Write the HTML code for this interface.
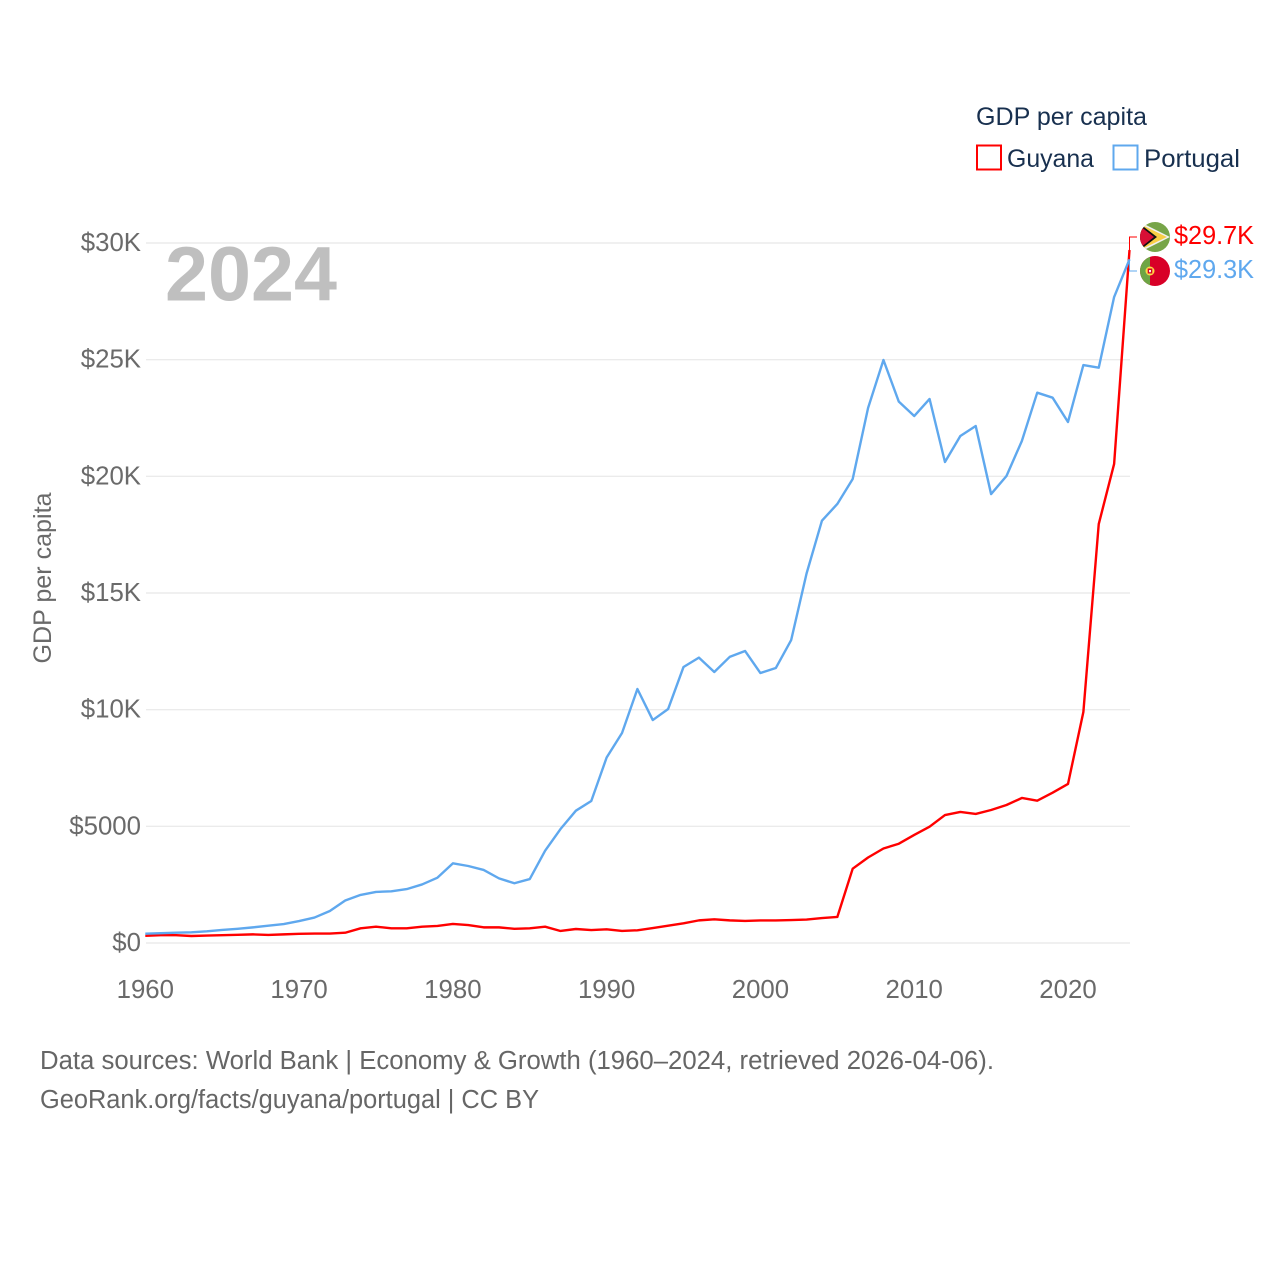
<!DOCTYPE html>
<html lang="en">
<head>
<meta charset="utf-8">
<title>GDP per capita: Guyana and Portugal</title>
<style>
  html, body { margin: 0; padding: 0; background: #fff; }
  svg { display: block; font-family: "Liberation Sans", "DejaVu Sans", sans-serif; }
</style>
</head>
<body>
<svg id="chart" width="1280" height="1280" viewBox="0 0 1280 1280" xmlns="http://www.w3.org/2000/svg">
  <rect width="1280" height="1280" fill="#ffffff"/>
  <g id="grid"></g>
  <g id="yticks"></g>
  <g id="xticks"></g>
  <text transform="translate(51 578) rotate(-90)" text-anchor="middle" font-size="25" fill="#6a6a6a" textLength="171" lengthAdjust="spacingAndGlyphs">GDP per capita</text>
  <text x="165" y="300.500" font-size="77" font-weight="700" fill="#bfbfbf" textLength="172" lengthAdjust="spacingAndGlyphs">2024</text>
  <g id="series"></g>

  <g>
    <text x="976" y="125" font-size="25" fill="#18304f" textLength="171" lengthAdjust="spacingAndGlyphs">GDP per capita</text>
    <g>
      <rect x="977" y="145.500" width="24" height="24" fill="none" stroke="#ff0000" stroke-width="2"/>
      <text x="1007" y="167" font-size="25" fill="#18304f" textLength="87" lengthAdjust="spacingAndGlyphs">Guyana</text>
    </g>
    <g>
      <rect x="1113.500" y="145.500" width="24" height="24" fill="none" stroke="#5fa8ee" stroke-width="2"/>
      <text x="1144" y="167" font-size="25" fill="#18304f" textLength="96" lengthAdjust="spacingAndGlyphs">Portugal</text>
    </g>
  </g>

  <defs>
    <clipPath id="clip-guyana"><circle cx="1155" cy="237" r="15"/></clipPath>
    <clipPath id="clip-portugal"><circle cx="1155" cy="271" r="15"/></clipPath>
  </defs>
  <g clip-path="url(#clip-guyana)">
    <rect x="1140" y="222" width="30" height="30" fill="#77a548"/>
    <polygon points="1140,222 1170,237 1140,252" fill="#f1f1f1"/>
    <polygon points="1140,224 1167,237 1140,250" fill="#f8cf46"/>
    <polygon points="1140,224 1157,237 1140,250" fill="#111111"/>
    <polygon points="1140,226 1154,237 1140,248" fill="#d80f35"/>
  </g>
  <g clip-path="url(#clip-portugal)">
    <rect x="1140" y="256" width="30" height="30" fill="#d80027"/>
    <rect x="1140" y="256" width="10" height="30" fill="#6da544"/>
    <circle cx="1150" cy="271" r="4.500" fill="#ffda44"/>
    <rect x="1147.700" y="268.500" width="4.600" height="5" fill="#d80027"/>
    <rect x="1149" y="270" width="2" height="2.200" fill="#f0f0f0"/>
  </g>
  <text x="1174" y="244" font-size="25.500" fill="#ff0000" textLength="80" lengthAdjust="spacingAndGlyphs">$29.7K</text>
  <text x="1174" y="278" font-size="25.500" fill="#5fa8ee" textLength="80" lengthAdjust="spacingAndGlyphs">$29.3K</text>

  <text x="40" y="1069" font-size="25.500" fill="#666666" textLength="954" lengthAdjust="spacingAndGlyphs">Data sources: World Bank | Economy &amp; Growth (1960–2024, retrieved 2026-04-06).</text>
  <text x="40" y="1108" font-size="25.500" fill="#666666" textLength="499" lengthAdjust="spacingAndGlyphs">GeoRank.org/facts/guyana/portugal | CC BY</text>
</svg>
<script>
const years = [1960,1961,1962,1963,1964,1965,1966,1967,1968,1969,1970,1971,1972,1973,1974,1975,1976,1977,1978,1979,1980,1981,1982,1983,1984,1985,1986,1987,1988,1989,1990,1991,1992,1993,1994,1995,1996,1997,1998,1999,2000,2001,2002,2003,2004,2005,2006,2007,2008,2009,2010,2011,2012,2013,2014,2015,2016,2017,2018,2019,2020,2021,2022,2023,2024];
const guyanaValues = [310,335,335,300,320,335,350,370,345,370,395,405,405,440,630,700,630,630,700,730,815,770,670,670,610,630,700,515,600,555,585,515,545,640,740,845,970,1015,970,945,965,965,985,1005,1070,1115,3185,3665,4050,4255,4630,4985,5485,5615,5530,5700,5915,6215,6100,6440,6815,9900,17955,20530,29700];
const portugalValues = [400,420,440,460,500,560,610,670,740,810,940,1090,1370,1820,2060,2190,2215,2310,2510,2800,3415,3300,3130,2770,2560,2740,3955,4885,5670,6085,7950,9000,10885,9555,10030,11830,12230,11615,12260,12515,11570,11785,12985,15835,18100,18815,19885,22930,24985,23200,22585,23315,20615,21730,22155,19240,20015,21515,23585,23370,22330,24770,24655,27685,29300];
const yTickValues = [0,5000,10000,15000,20000,25000,30000];
const yTickLabels = ["$0","$5000","$10K","$15K","$20K","$25K","$30K"];
const xTickValues = [1960,1970,1980,1990,2000,2010,2020];
const xTickLabels = ["1960","1970","1980","1990","2000","2010","2020"];

const SVG_NS = "http://www.w3.org/2000/svg";
const plotLeft = 145.300, plotRight = 1129.500, plotBottom = 943, plotTop = 243;
function xScale(year) {
  return plotLeft + (year - 1960) / (2024 - 1960) * (plotRight - plotLeft);
}
function yScale(value) {
  return plotBottom - value / 30000 * (plotBottom - plotTop);
}
const gridGroup = document.getElementById("grid");
const yTickGroup = document.getElementById("yticks");
const xTickGroup = document.getElementById("xticks");
const seriesGroup = document.getElementById("series");

yTickValues.forEach(function (value, i) {
  const y = yScale(value);
  const line = document.createElementNS(SVG_NS, "line");
  
  
  line.setAttribute("x1", 146);
  line.setAttribute("x2", 1130);
  line.setAttribute("y1", y);
  line.setAttribute("y2", y);
  line.setAttribute("stroke", "#ebebeb");
  line.setAttribute("stroke-width", "1.4");
  gridGroup.appendChild(line);

  const label = document.createElementNS(SVG_NS, "text");
  
  
  label.setAttribute("x", 141);
  label.setAttribute("y", y + 8);
  label.setAttribute("text-anchor", "end");
  label.setAttribute("font-size", "25.800");
  label.setAttribute("fill", "#6a6a6a");
  label.textContent = yTickLabels[i];
  yTickGroup.appendChild(label);
});

xTickValues.forEach(function (year, i) {
  const label = document.createElementNS(SVG_NS, "text");
  
  
  label.setAttribute("x", xScale(year));
  label.setAttribute("y", 998);
  label.setAttribute("text-anchor", "middle");
  label.setAttribute("font-size", "25.800");
  label.setAttribute("fill", "#6a6a6a");
  label.textContent = xTickLabels[i];
  xTickGroup.appendChild(label);
});

function linePoints(values) {
  return values.map(function (value, i) {
    return xScale(years[i]).toFixed(2) + "," + yScale(value).toFixed(2);
  }).join(" ");
}

const guyanaLine = document.createElementNS(SVG_NS, "polyline");


guyanaLine.setAttribute("points", linePoints(guyanaValues));
guyanaLine.setAttribute("fill", "none");
guyanaLine.setAttribute("stroke", "#ff0000");
guyanaLine.setAttribute("stroke-width", "2.400");
guyanaLine.setAttribute("stroke-linejoin", "round");
seriesGroup.appendChild(guyanaLine);

const portugalLine = document.createElementNS(SVG_NS, "polyline");


portugalLine.setAttribute("points", linePoints(portugalValues));
portugalLine.setAttribute("fill", "none");
portugalLine.setAttribute("stroke", "#5fa8ee");
portugalLine.setAttribute("stroke-width", "2.400");
portugalLine.setAttribute("stroke-linejoin", "round");
seriesGroup.appendChild(portugalLine);

const lastIndex = years.length - 1;
const guyanaConnector = document.createElementNS(SVG_NS, "polyline");


guyanaConnector.setAttribute("points", xScale(years[lastIndex]) + "," + yScale(guyanaValues[lastIndex]) + " " + xScale(years[lastIndex]) + ",237 1137,237");
guyanaConnector.setAttribute("fill", "none");
guyanaConnector.setAttribute("stroke", "#ff0000");
guyanaConnector.setAttribute("stroke-width", "1");
seriesGroup.appendChild(guyanaConnector);

const portugalConnector = document.createElementNS(SVG_NS, "polyline");


portugalConnector.setAttribute("points", xScale(years[lastIndex]) + "," + yScale(portugalValues[lastIndex]) + " " + xScale(years[lastIndex]) + ",271 1137,271");
portugalConnector.setAttribute("fill", "none");
portugalConnector.setAttribute("stroke", "#5fa8ee");
portugalConnector.setAttribute("stroke-width", "1");
seriesGroup.appendChild(portugalConnector);
</script>
</body>
</html>
